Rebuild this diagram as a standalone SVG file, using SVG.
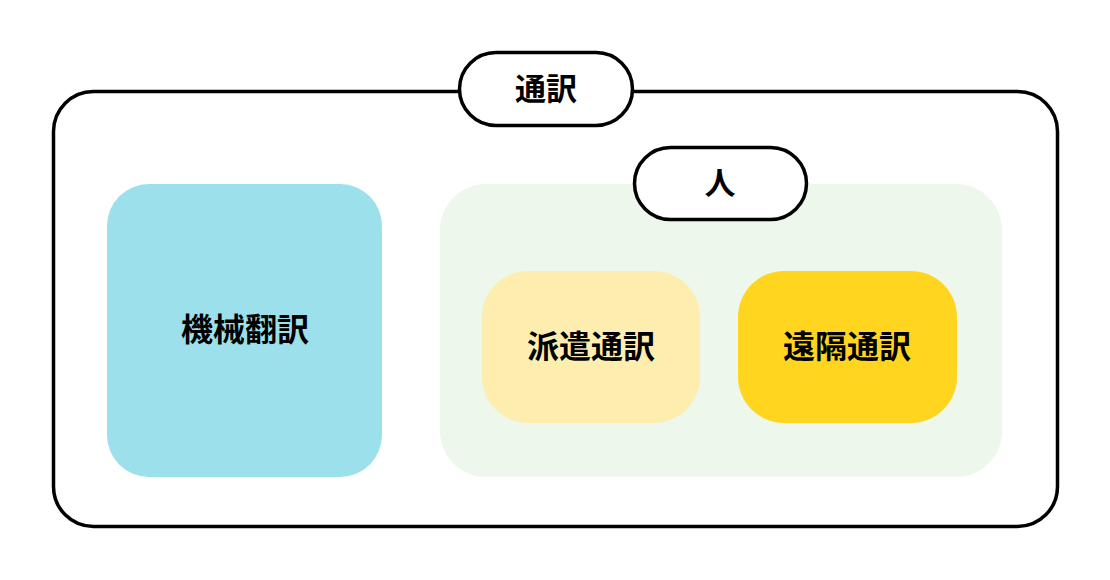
<svg xmlns="http://www.w3.org/2000/svg" width="1110" height="580" viewBox="0 0 1110 580">
<style>
text{font-family:"Noto Sans CJK JP","Noto Sans CJK SC",sans-serif;font-weight:bold;fill:#000;text-anchor:middle;dominant-baseline:central}
.pill{fill:#fff;stroke:#000;stroke-width:3.5}
.lbl{font-size:32px}
.ttl{font-size:31px}
</style>
<rect width="1110" height="580" fill="#fff"/>
<g id="interpretation">
<rect x="53.5" y="91.5" width="1004" height="435" rx="40" fill="#fff" stroke="#000" stroke-width="3.5"/>
</g>
<g id="machine">
<rect x="107" y="184" width="275" height="293" rx="42" fill="#9BE0EB"/>
<text class="lbl" x="245" y="327">機械翻訳</text>
</g>
<g id="human">
<rect x="440" y="184" width="562" height="293" rx="46" fill="#EDF7EB"/>
</g>
<g id="dispatch">
<rect x="482" y="271" width="218" height="152" rx="46" fill="#FDEDAE"/>
<text class="lbl" x="591" y="344">派遣通訳</text>
</g>
<g id="remote">
<rect x="738" y="271" width="219" height="152" rx="46" fill="#FFD520"/>
<text class="lbl" x="847" y="344">遠隔通訳</text>
</g>
<g id="interpretation-label">
<rect class="pill" x="459.5" y="52.5" width="173" height="73" rx="36.5"/>
<text class="ttl" x="546" y="86">通訳</text>
</g>
<g id="human-label">
<rect class="pill" x="634.5" y="147.5" width="172" height="72" rx="36"/>
<text class="ttl" x="720" y="180">人</text>
</g>
<g id="connectors"></g>
</svg>
